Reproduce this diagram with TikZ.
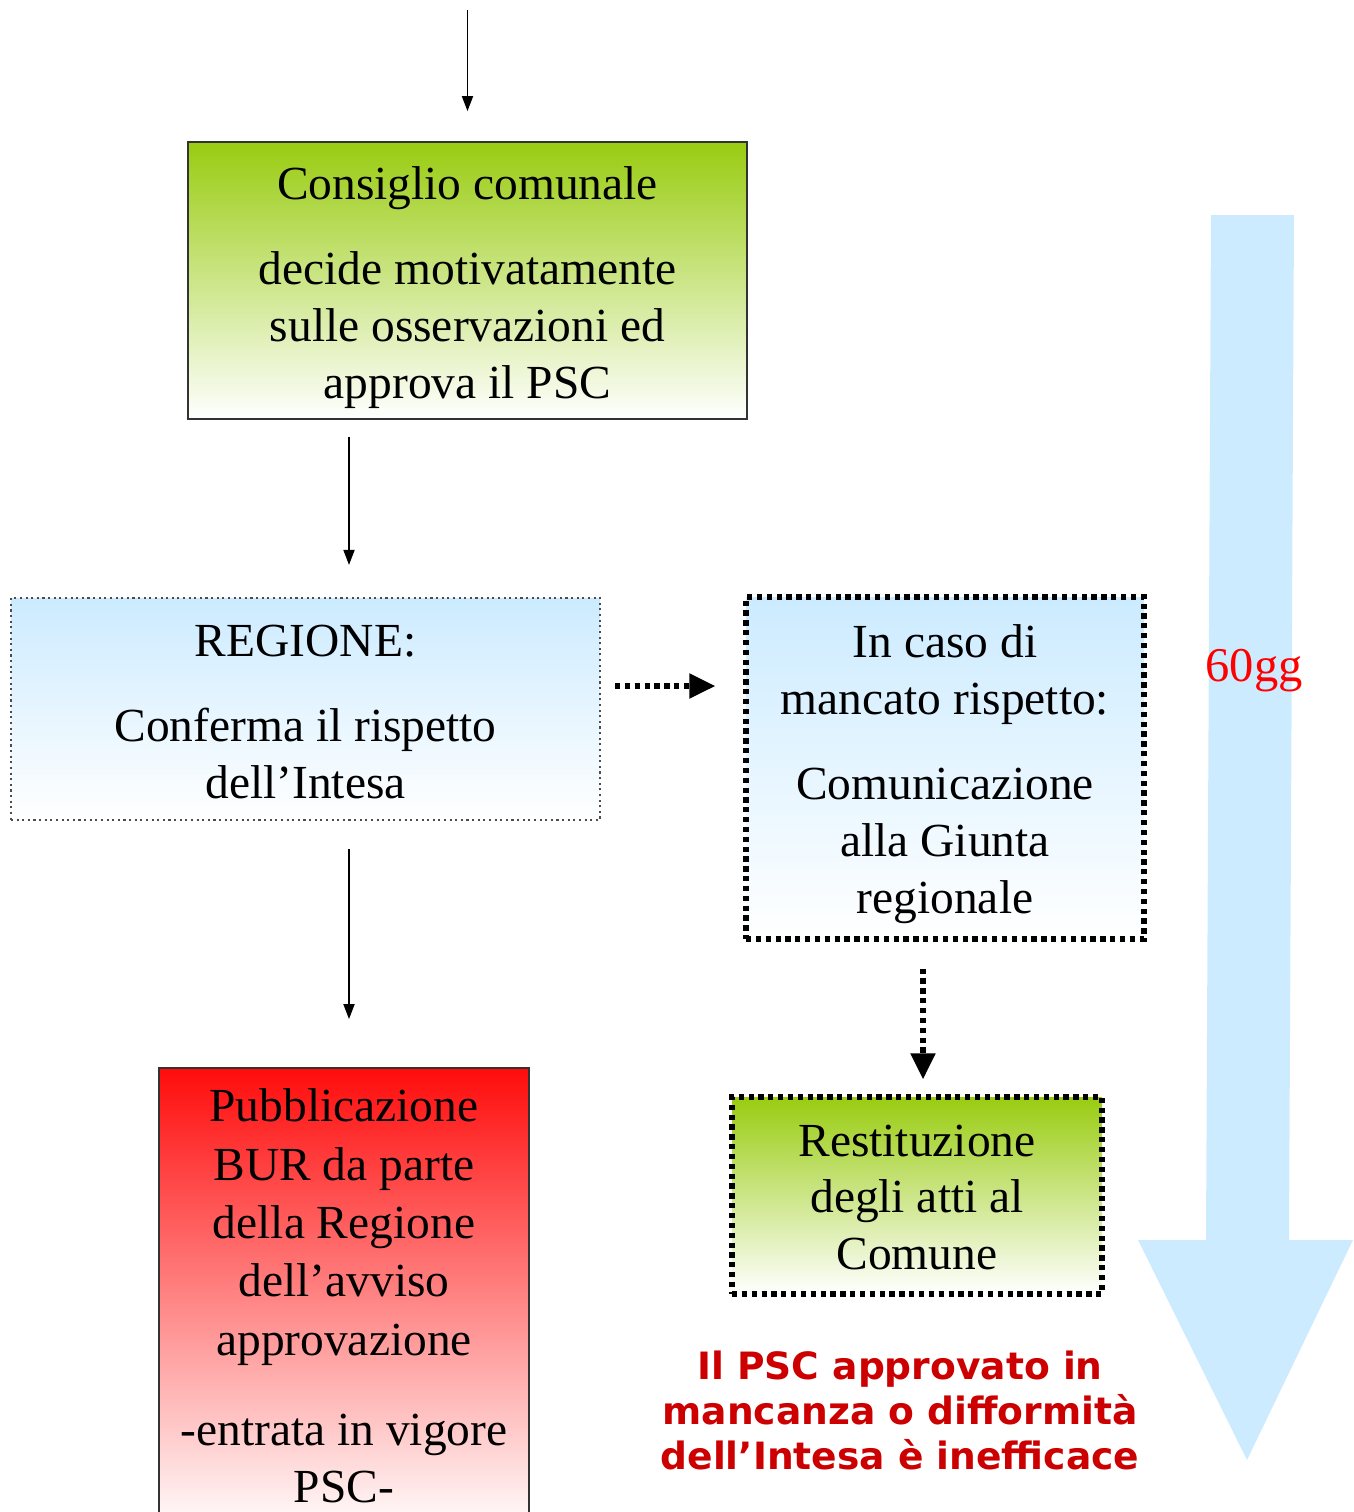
\documentclass[tikz,border=0pt]{standalone}
\usepackage{fontspec}
\setmainfont{Liberation Serif}
\newfontfamily\notefont{DejaVu Sans}
\usetikzlibrary{arrows.meta}
\usetikzlibrary{positioning}
\definecolor{verde}{RGB}{153,204,17}
\definecolor{celeste}{RGB}{204,235,255}
\definecolor{rosso}{RGB}{255,12,12}
\definecolor{rossoscuro}{RGB}{204,0,0}

\begin{document}
\begin{tikzpicture}[
  box/.style={rectangle,inner sep=0pt},
  testo/.style={align=center,inner sep=0pt,font=\fontsize{13.5}{16.2}\selectfont},
  thinarr/.style={-{Triangle[length=0.15cm,width=0.11cm]},line width=0.5pt},
  dotarr/.style={-{Triangle[length=0.26cm,width=0.24cm]},line width=1.5pt,dash pattern=on 1.5pt off 1.3pt},
  thickdots/.style={line width=1.5pt,dash pattern=on 1.5pt off 1.3pt}
]
\useasboundingbox (0,0) rectangle (13.53,-15.12);

% freccia dei 60 giorni
\fill[celeste] (12.11,-2.15) -- (12.94,-2.15) -- (12.89,-12.40) -- (13.53,-12.40) -- (12.47,-14.60) -- (11.38,-12.40) -- (12.06,-12.40) -- cycle;
\node[font=\fontsize{13.8}{16.2}\selectfont,text=red] (gg) at (12.54,-6.71) {60gg};

% caselle
\node[box,draw=black!80,line width=0.5pt,top color=verde,middle color=verde!40!white,bottom color=white,minimum width=5.59cm,minimum height=2.77cm] (cons) at (4.675,-2.805) {};
\node[box,draw=black!70,densely dotted,line width=0.6pt,top color=celeste,middle color=celeste!55!white,bottom color=white,minimum width=5.89cm,minimum height=2.22cm] (regione) at (3.055,-7.09) {};
\node[box,draw=black,thickdots,top color=celeste,middle color=celeste!55!white,bottom color=white,minimum width=3.98cm,minimum height=3.42cm] (mancato) at (9.45,-7.68) {};
\node[box,draw=black,thickdots,top color=verde,middle color=verde!40!white,bottom color=white,minimum width=3.70cm,minimum height=1.97cm] (restit) at (9.17,-11.955) {};
\node[box,draw=black!80,line width=0.5pt,top color=rosso,middle color=rosso!35!white,bottom color=white,minimum width=3.70cm,minimum height=4.64cm] (pubbl) at (3.44,-13.00) {};

% testi delle caselle
\node[testo] (consT) at ([yshift=-0.07cm]cons.center) {Consiglio comunale\\[8pt] decide motivatamente\\ sulle osservazioni ed\\ approva il PSC};
\node[testo] (regioneT) at ([yshift=-0.03cm]regione.center) {REGIONE:\\[8pt] Conferma il rispetto\\ dell’Intesa};
\node[testo] (mancatoT) at ([yshift=-0.06cm]mancato.center) {In caso di\\ mancato rispetto:\\[8pt] Comunicazione\\ alla Giunta\\ regionale};
\node[testo] (restitT) at ([yshift=-0.02cm]restit.center) {Restituzione\\ degli atti al\\ Comune};
\node[testo] (pubblT) at ([yshift=0.04cm]pubbl.center) {Pubblicazione\\[0.4pt] BUR da parte\\[0.4pt] della Regione\\[0.4pt] dell’avviso\\[0.4pt] approvazione\\[9.5pt] -entrata in vigore\\ PSC-};

\node[font=\notefont\bfseries\fontsize{10.7}{12.8}\selectfont,text=rossoscuro,align=center] (nota) at (9.00,-14.10) {Il PSC approvato in\\ mancanza o difformità\\ dell’Intesa è inefficace};

% frecce
\coordinate (inizio) at (4.675,-0.10);
\coordinate (colonna) at (3.49,0);
\coordinate (riga) at (0,-6.86);
\coordinate (colonnab) at (9.23,0);
\draw[thinarr,shorten >=0.30cm] (inizio) -- (cons.north);
\draw[thinarr,shorten <=0.17cm,shorten >=0.32cm] (cons.south -| colonna) -- (regione.north -| colonna);
\draw[thinarr,shorten <=0.28cm,shorten >=0.48cm] (regione.south -| colonna) -- (pubbl.north -| colonna);
\draw[dotarr,shorten <=0.14cm,shorten >=0.28cm] (regione.east |- riga) -- (mancato.west |- riga);
\draw[dotarr,shorten <=0.27cm,shorten >=0.15cm] (mancato.south -| colonnab) -- (restit.north -| colonnab);

\end{tikzpicture}
\end{document}
